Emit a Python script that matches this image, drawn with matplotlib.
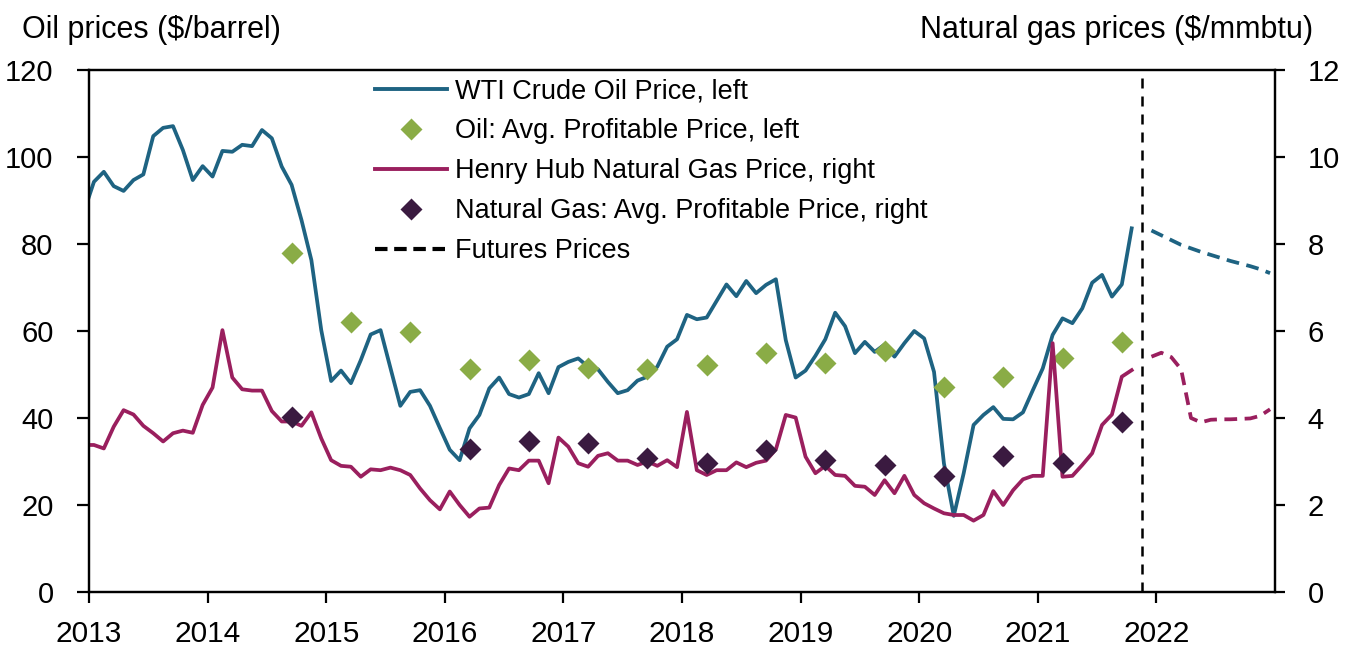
import numpy as np
import matplotlib
matplotlib.use("Agg")
import matplotlib.pyplot as plt
from matplotlib.lines import Line2D

plt.rcParams['font.family'] = ['Liberation Sans', 'DejaVu Sans']

# monthly averages, Dec 2012 .. Oct 2021 (plotted at mid-month)
wti = [87.5,
       94.3, 96.6, 93.3, 92.2, 94.7, 96.0, 104.8, 106.7, 107.1, 101.6, 94.7, 97.9,
       95.5, 101.4, 101.2, 102.8, 102.5, 106.2, 104.3, 97.8, 93.6, 85.5, 76.3, 60.2,
       48.5, 50.9, 48.0, 53.3, 59.2, 60.2, 51.5, 42.8, 46.0, 46.4, 42.8, 37.7,
       32.7, 30.3, 37.6, 40.7, 46.8, 49.3, 45.5, 44.7, 45.5, 50.3, 45.7, 51.7,
       52.9, 53.7, 51.8, 51.2, 48.3, 45.7, 46.4, 48.6, 49.5, 51.8, 56.4, 58.1,
       63.7, 62.7, 63.1, 66.9, 70.7, 68.0, 71.5, 68.7, 70.6, 71.9, 57.9, 49.3,
       50.9, 54.3, 58.1, 64.2, 61.1, 54.9, 57.5, 55.2, 56.9, 54.1, 57.2, 60.0,
       58.3, 50.6, 29.6, 17.5, 27.3, 38.4, 40.7, 42.5, 39.8, 39.7, 41.3, 46.4,
       51.4, 59.1, 62.9, 61.8, 65.2, 71.1, 72.9, 67.9, 70.7, 83.6]

henry_hub = [3.38,
             3.38, 3.30, 3.80, 4.18, 4.08, 3.82, 3.65, 3.46, 3.65, 3.71, 3.66, 4.30,
             4.70, 6.02, 4.93, 4.66, 4.63, 4.63, 4.16, 3.92, 3.92, 3.82, 4.13, 3.53,
             3.03, 2.90, 2.88, 2.65, 2.82, 2.80, 2.86, 2.80, 2.69, 2.38, 2.11, 1.90,
             2.31, 2.00, 1.73, 1.92, 1.94, 2.46, 2.84, 2.80, 3.02, 3.02, 2.50, 3.55,
             3.34, 2.96, 2.88, 3.13, 3.19, 3.02, 3.02, 2.92, 3.00, 2.90, 3.03, 2.87,
             4.14, 2.80, 2.69, 2.80, 2.80, 2.98, 2.87, 2.97, 3.02, 3.28, 4.07, 4.01,
             3.11, 2.73, 2.90, 2.69, 2.67, 2.44, 2.42, 2.23, 2.57, 2.27, 2.67, 2.23,
             2.04, 1.92, 1.81, 1.77, 1.77, 1.64, 1.77, 2.32, 2.00, 2.34, 2.59, 2.67,
             2.67, 5.72, 2.65, 2.67, 2.92, 3.19, 3.84, 4.08, 4.95, 5.10]

# futures, Dec 2021 .. Dec 2022
wti_futures = [83.1, 82.0, 80.9, 79.8, 79.0, 78.2, 77.5, 76.8, 76.1, 75.5, 74.9, 74.2, 73.3]
hh_futures = [5.41, 5.50, 5.40, 5.12, 4.00, 3.90, 3.96, 3.97, 3.97, 3.98, 3.99, 4.05, 4.20]

# average profitable prices, Sep 2014 .. Sep 2021 every 6 months
oil_breakeven = [78.0, 62.1, 59.8, 51.2, 53.3, 51.4, 51.2, 52.2, 55.0, 52.6, 55.4, 47.2, 49.4, 53.7, 57.5]
gas_breakeven = [4.02, np.nan, np.nan, 3.29, 3.47, 3.42, 3.07, 2.96, 3.26, 3.03, 2.92, 2.67, 3.13, 2.96, 3.90]

years = list(range(2013, 2023))

# dates as decimal years (mid-month)
t_hist = 2012 + 11.5 / 12 + np.arange(len(wti)) / 12
t_fut = 2021 + 11.5 / 12 + np.arange(len(wti_futures)) / 12
t_be = 2014 + 8.5 / 12 + np.arange(len(oil_breakeven)) / 2
futures_start = 2021 + 10.5 / 12

c_wti = "#1e6382"
c_hh = "#9a1f5e"
c_oil = "#8aac46"
c_gas = "#3a1a40"
lw = 2.7

fig = plt.figure(figsize=(13.51, 6.51), dpi=100)
ax = fig.add_axes([89 / 1351, 1 - 592 / 651, (1275 - 89) / 1351, (592 - 70) / 651])
ax2 = ax.twinx()

ax.plot(t_hist, wti, color=c_wti, lw=lw, zorder=2)
ax.plot(t_fut, wti_futures, color=c_wti, lw=lw, dashes=(3.4, 2))
ax.plot(t_be, oil_breakeven, "D", color=c_oil, ms=11.5, mec="none", zorder=3)
ax.axvline(futures_start, color="black", lw=1.8, dashes=(4, 3.2))

ax2.plot(t_hist, henry_hub, color=c_hh, lw=lw)
ax2.plot(t_fut, hh_futures, color=c_hh, lw=lw, dashes=(3.4, 2))
ax2.plot(t_be, gas_breakeven, "D", color=c_gas, ms=11.5, mec="none")

ax.set_xlim(2013, 2023)
ax.set_ylim(0, 120)
ax2.set_ylim(0, 12)
ax.set_xticks(years)
ax.set_xticklabels([str(y) for y in years])
ax.set_yticks(range(0, 121, 20))
ax2.set_yticks(range(0, 13, 2))

for a in (ax, ax2):
    for s in a.spines.values():
        s.set_linewidth(1.6)
ax.tick_params(axis="x", direction="out", length=8, width=1.6, pad=12, labelsize=21.5)
ax.tick_params(axis="y", direction="out", length=8.5, width=1.6, pad=17, labelsize=21)
ax2.tick_params(axis="y", direction="out", length=7.5, width=1.6, pad=16, labelsize=21)

fig.text(22 / 1351, 1 - 38 / 651, "Oil prices ($/barrel)", fontsize=22, va="baseline")
fig.text(1313 / 1351, 1 - 38 / 651, "Natural gas prices ($/mmbtu)", fontsize=22,
         va="baseline", ha="right")

handles = [
    Line2D([], [], color=c_wti, lw=2.8),
    Line2D([], [], ls="none", marker="D", color=c_oil, ms=11.5, mec="none"),
    Line2D([], [], color=c_hh, lw=2.8),
    Line2D([], [], ls="none", marker="D", color=c_gas, ms=11.5, mec="none"),
    Line2D([], [], color="black", lw=3, dashes=(3, 1.6)),
]
labels = ["WTI Crude Oil Price, left", "Oil: Avg. Profitable Price, left",
          "Henry Hub Natural Gas Price, right", "Natural Gas: Avg. Profitable Price, right",
          "Futures Prices"]
ax2.legend(handles, labels, loc="upper left", bbox_to_anchor=(375 / 1351, 1 - 78 / 651),
           bbox_transform=fig.transFigure, frameon=False, fontsize=19.5, borderpad=0,
           borderaxespad=0, handlelength=2.65, handletextpad=0.3, labelspacing=0.52)

fig.savefig("out.png", dpi=100)
